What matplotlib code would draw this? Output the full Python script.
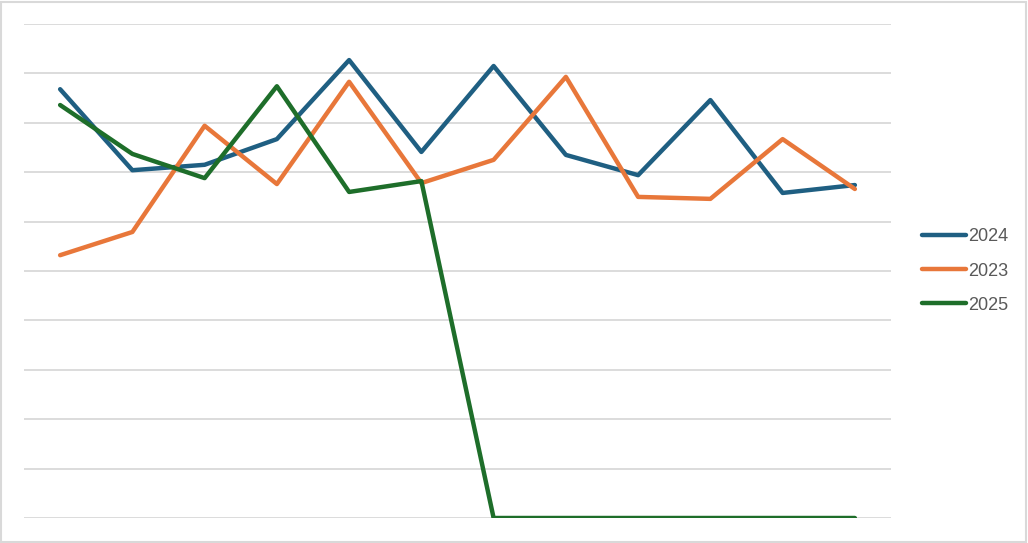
import numpy as np
import matplotlib.pyplot as plt
from matplotlib.patches import Rectangle

# valores (escala sin etiquetas, 0 a 10)
meses = list(range(12))
serie_2024 = [8.68, 7.04, 7.15, 7.67, 9.27, 7.41, 9.15, 7.35, 6.94, 8.46, 6.58, 6.74]
serie_2023 = [5.32, 5.79, 7.94, 6.76, 8.83, 6.78, 7.25, 8.93, 6.50, 6.46, 7.67, 6.66]
serie_2025 = [8.36, 7.37, 6.88, 8.74, 6.60, 6.82, 0, 0, 0, 0, 0, 0]
nombres = ['2024', '2023', '2025']
colores = ['#1f5f82', '#e8773a', '#1e6e2a']

plt.rcParams['font.family'] = ['Liberation Sans', 'DejaVu Sans']

fig = plt.figure(figsize=(10.28, 5.43), dpi=100)
W, H = 1028, 543
ax = fig.add_axes([24 / W, 25 / H, (891 - 24) / W, (518 - 24) / H])

for datos, nombre, color in zip([serie_2024, serie_2023, serie_2025], nombres, colores):
    ax.plot(meses, datos, color=color, linewidth=3.2, label=nombre,
            solid_capstyle='round', solid_joinstyle='round')

ax.set_xlim(-0.5, 11.5)
ax.set_ylim(0, 10)
ax.set_yticks(np.arange(0, 11, 1))
ax.grid(axis='y', color='#d9d9d9', linewidth=1.3)
ax.set_axisbelow(True)
ax.tick_params(left=False, bottom=False, labelleft=False, labelbottom=False)
for s in ax.spines.values():
    s.set_visible(False)

leg = ax.legend(loc='center left', bbox_to_anchor=(1.036, 0.5), frameon=False,
                fontsize=13, handlelength=2.4, handletextpad=0.15, labelspacing=0.95,
                borderaxespad=0, borderpad=0)
for t in leg.get_texts():
    t.set_color('#595959')

# borde del grafico
fig.patches.append(Rectangle((0.001, 0.002), 0.997, 0.995, transform=fig.transFigure,
                             fill=False, edgecolor='#d9d9d9', linewidth=1.5))

plt.savefig('out.png', dpi=100)
